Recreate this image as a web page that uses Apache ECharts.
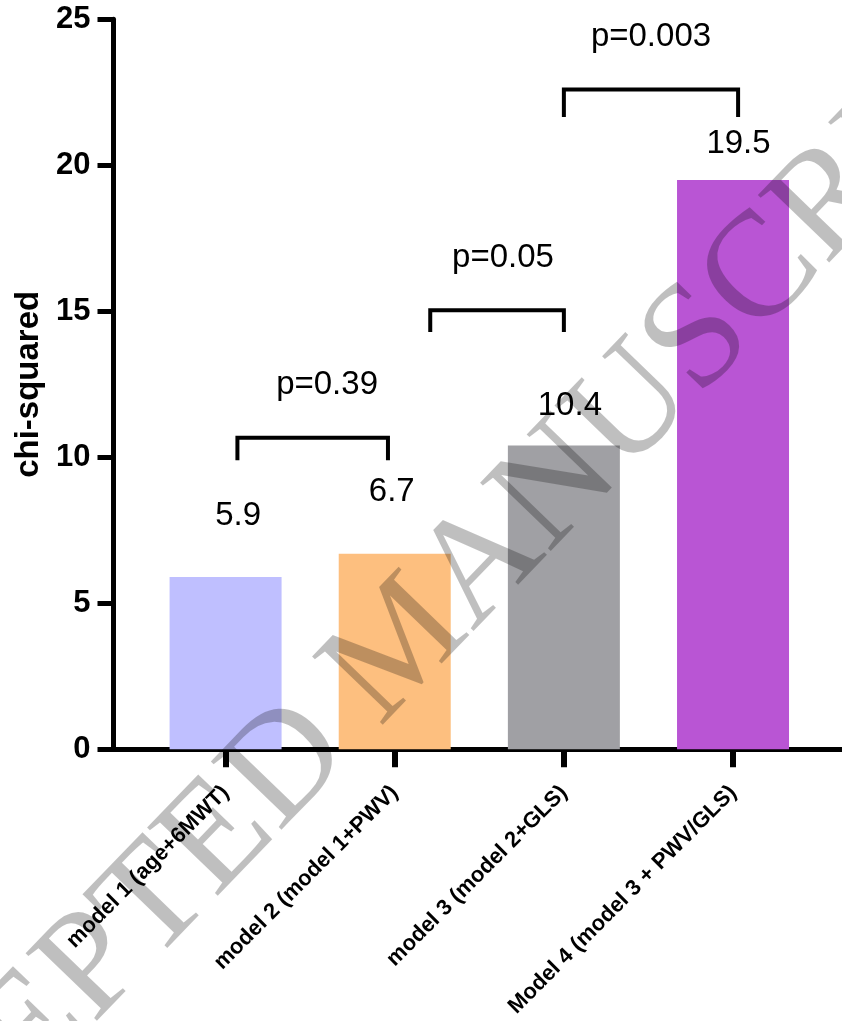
<!DOCTYPE html>
<html><head><meta charset="utf-8">
<script src="https://cdn.jsdelivr.net/npm/echarts@6/dist/echarts.min.js"></script>
<style>html,body{margin:0;padding:0;background:#fff}#c{width:842px;height:1021px}</style>
</head><body><div id="c"></div>
<script>
// ---- data ----
const categories = ['model 1 (age+6MWT)', 'model 2 (model 1+PWV)', 'model 3 (model 2+GLS)', 'Model 4 (model 3 + PWV/GLS)'];
const chiSquared = [5.9, 6.7, 10.4, 19.5];
const barColors = ['#bfbfff', '#fdbf7f', '#a0a0a4', '#b955d4'];
const yTicks = [0, 5, 10, 15, 20, 25];
// comparison brackets (x in category units, y in chi-squared units)
const bracketX = [[0.07, 0.96], [1.21, 2.0], [2.0, 3.03]];
const bracketTop = [10.67, 15.04, 22.6];
const bracketLow = [9.97, 14.36, 21.72];
const pLabels = ['p=0.39', 'p=0.05', 'p=0.003'];
const pLabelX = [0.60, 1.64, 2.515];
const pLabelY = [12.48, 16.84, 24.4];

// ---- chart ----
const chart = echarts.init(document.getElementById('c'));
const font = 'Arial, "Liberation Sans", Helvetica, sans-serif';
const valueLabelOffset = [[12.5, -61], [-3, -61.5], [6, -39.5], [5.5, -36.2]];

const series = [{
  type: 'bar', xAxisIndex: 0, yAxisIndex: 0,
  barWidth: 112,
  data: chiSquared.map((v, i) => ({
    value: v,
    itemStyle: { color: barColors[i] },
    label: { offset: valueLabelOffset[i] }
  })),
  label: {
    show: true, position: 'top', distance: 0, verticalAlign: 'middle',
    fontFamily: font, fontSize: 33, color: '#000',
    formatter: p => p.value.toFixed(1)
  },
  z: 2
}];
bracketX.forEach((bx, i) => {
  series.push({
    type: 'line', xAxisIndex: 1, yAxisIndex: 0,
    data: [[bx[0], bracketLow[i]], [bx[0], bracketTop[i]], [bx[1], bracketTop[i]], [bx[1], bracketLow[i]]],
    symbol: 'none', lineStyle: { color: '#000', width: 4, cap: 'square', join: 'miter' },
    silent: true, z: 3
  });
});
series.push({
  type: 'scatter', xAxisIndex: 1, yAxisIndex: 0,
  symbolSize: 0,
  itemStyle: { opacity: 1 },
  data: pLabels.map((t, i) => ({ value: [pLabelX[i], pLabelY[i]], name: t })),
  label: { show: true, position: 'inside', formatter: p => p.name, fontFamily: font, fontSize: 33, color: '#000', opacity: 1 },
  silent: true, z: 3
});

chart.setOption({
  backgroundColor: '#fff',
  animation: false,
  grid: [
    { left: 141, right: 24.4, top: 19.3, bottom: 271.7 },
    { left: 111, right: 0, top: 19.3, bottom: 271.7 }
  ],
  xAxis: [
    {
      type: 'category', gridIndex: 0, data: categories,
      axisLine: { show: false, onZero: false },
      axisTick: { show: true, alignWithLabel: true, length: 18, lineStyle: { color: '#000', width: 6 } },
      axisLabel: { rotate: 45, margin: 40, fontFamily: font, fontSize: 22, fontWeight: 'bold', color: '#000', interval: 0 }
    },
    {
      type: 'value', gridIndex: 0, min: -0.5, max: 3.5, show: false,
      axisLine: { onZero: false }
    },
    {
      type: 'value', gridIndex: 1, min: 0, max: 1,
      axisLine: { show: true, onZero: false, lineStyle: { color: '#000', width: 5 } },
      axisTick: { show: false }, axisLabel: { show: false }, splitLine: { show: false }
    }
  ],
  yAxis: [
    {
      type: 'value', gridIndex: 0, min: 0, max: 25, interval: 5, offset: 27.5,
      name: 'chi-squared', nameLocation: 'middle', nameRotate: 90, nameGap: 66,
      nameTextStyle: { fontFamily: font, fontSize: 33, fontWeight: 'bold', color: '#000' },
      axisLine: { show: true, onZero: false, lineStyle: { color: '#000', width: 5 } },
      axisTick: { show: true, length: 16, lineStyle: { color: '#000', width: 5 } },
      axisLabel: { margin: 23, fontFamily: font, fontSize: 31, fontWeight: 'bold', color: '#000',
        formatter: v => yTicks.includes(v) ? String(v) : '' },
      splitLine: { show: false }
    },
    { type: 'value', gridIndex: 1, min: 0, max: 1, show: false, axisLine: { onZero: false } }
  ],
  series: series,
  graphic: [{
    type: 'text', z: 100, silent: true,
    x: 405, y: 645, rotation: 46 * Math.PI / 180,
    style: {
      text: 'ACCEPTED MANUSCRIPT', fill: 'rgba(0,0,0,0.25)',
      font: '150px "Liberation Serif", "Times New Roman", serif',
      textAlign: 'center', textVerticalAlign: 'middle'
    }
  }]
});
</script></body></html>
